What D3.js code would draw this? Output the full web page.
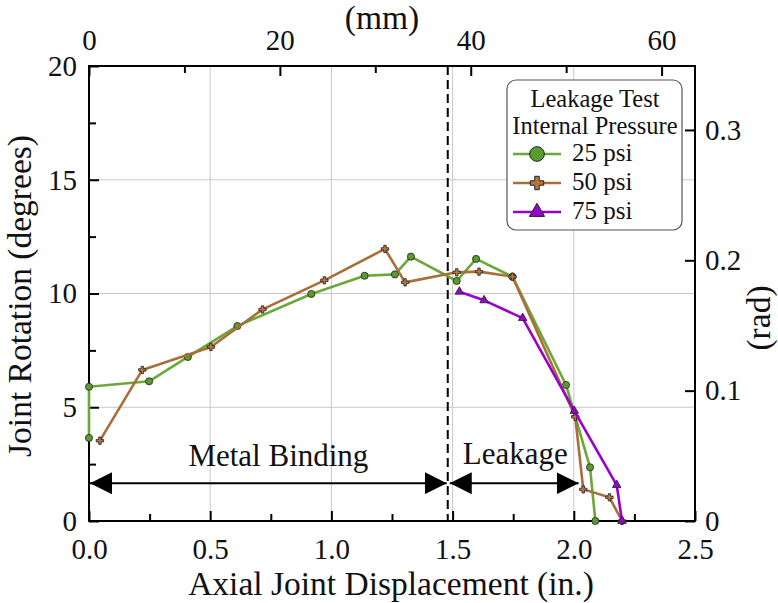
<!DOCTYPE html>
<html>
<head>
<meta charset="utf-8">
<script src="https://cdn.jsdelivr.net/npm/d3@7"></script>
<style>
  body { margin: 0; background: #fff; }
</style>
</head>
<body>
<div id="chart"></div>
<script>
// data (x in inches, y in degrees)
const x25 = [0, 0, 0.248, 0.408, 0.612, 0.917, 1.137, 1.262, 1.328, 1.517, 1.597, 1.747, 1.968, 2.067, 2.089];
const y25 = [3.65, 5.9, 6.14, 7.21, 8.57, 9.98, 10.78, 10.84, 11.62, 10.55, 11.52, 10.74, 5.98, 2.36, 0];
const x50 = [0.045, 0.22, 0.503, 0.716, 0.971, 1.221, 1.304, 1.517, 1.609, 1.747, 2.006, 2.039, 2.147, 2.199];
const y50 = [3.53, 6.64, 7.65, 9.3, 10.58, 11.96, 10.49, 10.93, 10.96, 10.74, 4.58, 1.39, 1.04, 0];
const x75 = [1.528, 1.63, 1.789, 2.002, 2.177, 2.199];
const y75 = [10.08, 9.70, 8.92, 4.84, 1.58, 0];

const seriesNames = ["25 psi", "50 psi", "75 psi"];
const xTicks = [0, 0.5, 1.0, 1.5, 2.0, 2.5];
const yTicks = [0, 5, 10, 15, 20];
const mmTicks = [0, 20, 40, 60];
const radTicks = [0, 0.1, 0.2, 0.3];
const leakStart = 1.48;
const leakEnd = 2.02;
const arrowY = 1.66;

const margin = {top: 66, right: 83, bottom: 82, left: 89},
    width = 778 - margin.left - margin.right,
    height = 603 - margin.top - margin.bottom;

const svg = d3.select("#chart")
  .append("svg")
    .attr("width", 778)
    .attr("height", 603);

const g = svg.append("g")
    .attr("transform", `translate(${margin.left},${margin.top})`);

const x = d3.scaleLinear().domain([0, 2.5]).range([0, width]);
const y = d3.scaleLinear().domain([0, 20]).range([height, 0]);
const xmm = d3.scaleLinear().domain([0, 2.5 * 25.4]).range([0, width]);
const yrad = d3.scaleLinear().domain([0, 20 * Math.PI / 180]).range([height, 0]);

// grid
g.append("g").selectAll("line")
  .data(xTicks.slice(1, -1))
  .join("line")
    .attr("x1", d => x(d)).attr("x2", d => x(d))
    .attr("y1", 0).attr("y2", height)
    .attr("stroke", "#c8c8c8").attr("stroke-width", 1);
g.append("g").selectAll("line")
  .data(yTicks.slice(1, -1))
  .join("line")
    .attr("y1", d => y(d)).attr("y2", d => y(d))
    .attr("x1", 0).attr("x2", width)
    .attr("stroke", "#c8c8c8").attr("stroke-width", 1);

// axes
function styleAxis(sel, fs) {
  sel.select(".domain").remove();
  sel.selectAll(".tick line").attr("stroke", "#000").attr("stroke-width", 2);
  sel.selectAll(".tick text").style("font-size", fs + "px");
}
function minor(sel) {
  sel.select(".domain").remove();
  sel.selectAll("line").attr("stroke", "#000").attr("stroke-width", 2);
}

const axBottom = g.append("g").attr("transform", `translate(0,${height})`)
  .call(d3.axisBottom(x).tickValues(xTicks).tickFormat(d3.format(".1f")).tickSizeInner(-10).tickPadding(17));
styleAxis(axBottom, 29);
g.append("g").attr("transform", `translate(0,${height})`)
  .call(d3.axisBottom(x).tickValues(d3.range(0.25, 2.5, 0.5)).tickFormat("").tickSizeInner(-7))
  .call(minor);

const axLeft = g.append("g")
  .call(d3.axisLeft(y).tickValues(yTicks).tickSizeInner(-10).tickPadding(12));
styleAxis(axLeft, 29);
g.append("g")
  .call(d3.axisLeft(y).tickValues(d3.range(2.5, 20, 5)).tickFormat("").tickSizeInner(-7))
  .call(minor);

const axTop = g.append("g")
  .call(d3.axisTop(xmm).tickValues(mmTicks).tickSizeInner(-10).tickPadding(16));
styleAxis(axTop, 29);
g.append("g")
  .call(d3.axisTop(xmm).tickValues([10, 30, 50]).tickFormat("").tickSizeInner(-7))
  .call(minor);

const axRight = g.append("g").attr("transform", `translate(${width},0)`)
  .call(d3.axisRight(yrad).tickValues(radTicks).tickFormat(d => d === 0 ? "0" : d3.format(".1f")(d)).tickSizeInner(-10).tickPadding(10));
styleAxis(axRight, 29);

// frame
g.append("rect")
  .attr("width", width).attr("height", height)
  .attr("fill", "none").attr("stroke", "#000").attr("stroke-width", 2);

// axis titles
svg.append("text")
  .attr("x", 391).attr("y", 595)
  .attr("text-anchor", "middle").style("font-size", "33.5px")
  .text("Axial Joint Displacement (in.)");
svg.append("text")
  .attr("x", 382).attr("y", 29)
  .attr("text-anchor", "middle").style("font-size", "33.5px")
  .text("(mm)");
svg.append("text")
  .attr("transform", "translate(31,296) rotate(-90)")
  .attr("text-anchor", "middle").style("font-size", "33.5px")
  .text("Joint Rotation (degrees)");
svg.append("text")
  .attr("transform", "translate(770,318) rotate(-90)")
  .attr("text-anchor", "middle").style("font-size", "33.5px")
  .text("(rad)");

// leak boundary
g.append("line")
  .attr("x1", x(leakStart)).attr("x2", x(leakStart))
  .attr("y1", 0).attr("y2", height)
  .attr("stroke", "#000").attr("stroke-width", 2)
  .attr("stroke-dasharray", "9,5");

// arrows
const defs = svg.append("defs");
defs.append("marker")
  .attr("id", "ah").attr("viewBox", "0 0 22 22")
  .attr("refX", 22).attr("refY", 11)
  .attr("markerWidth", 22).attr("markerHeight", 22)
  .attr("markerUnits", "userSpaceOnUse")
  .attr("orient", "auto-start-reverse")
  .append("path").attr("d", "M0,0L22,11L0,22Z").attr("fill", "#000");

g.append("line")
  .attr("x1", x(0) + 1).attr("x2", x(leakStart) - 1)
  .attr("y1", y(arrowY)).attr("y2", y(arrowY))
  .attr("stroke", "#000").attr("stroke-width", 2)
  .attr("marker-start", "url(#ah)").attr("marker-end", "url(#ah)");
g.append("line")
  .attr("x1", x(leakStart) + 2).attr("x2", x(leakEnd))
  .attr("y1", y(arrowY)).attr("y2", y(arrowY))
  .attr("stroke", "#000").attr("stroke-width", 2)
  .attr("marker-start", "url(#ah)").attr("marker-end", "url(#ah)");

g.append("text")
  .attr("x", x(leakStart / 2) + 10).attr("y", y(arrowY) - 17)
  .attr("text-anchor", "middle").style("font-size", "31px")
  .text("Metal Binding");
g.append("text")
  .attr("x", x((leakStart + leakEnd) / 2) + 2).attr("y", y(arrowY) - 19)
  .attr("text-anchor", "middle").style("font-size", "31px")
  .text("Leakage");

// series
const colors = ["#6aa83a", "#a86e3c", "#9a00cc"];
const fills = ["#5b9b2e", "#b5773f", "#9a00cc"];
const series = [
  {xs: x25, ys: y25, sym: d3.symbolCircle, size: 40, big: 170},
  {xs: x50, ys: y50, sym: d3.symbolCross, size: 30, big: 100},
  {xs: x75, ys: y75, sym: d3.symbolTriangle, size: 32, big: 100}
];

const line = d3.line().x(d => x(d[0])).y(d => y(d[1]));

series.forEach((s, i) => {
  const pts = s.xs.map((v, j) => [v, s.ys[j]]);
  g.append("path")
    .datum(pts)
    .attr("d", line)
    .attr("fill", "none")
    .attr("stroke", colors[i])
    .attr("stroke-width", 2.6)
    .attr("stroke-linejoin", "round");
  g.append("g").selectAll("path")
    .data(pts)
    .join("path")
      .attr("transform", d => `translate(${x(d[0])},${y(d[1])})`)
      .attr("d", d3.symbol(s.sym, s.size))
      .attr("fill", fills[i])
      .attr("stroke", "#222")
      .attr("stroke-width", 0.8);
});

// legend
const lg = svg.append("g").attr("transform", "translate(507,80)");
lg.append("rect")
  .attr("width", 175).attr("height", 150)
  .attr("rx", 9).attr("ry", 9)
  .attr("fill", "#fff").attr("stroke", "#555").attr("stroke-width", 1.2);
lg.append("text").attr("x", 88).attr("y", 27)
  .attr("text-anchor", "middle").style("font-size", "24.5px").text("Leakage Test");
lg.append("text").attr("x", 88).attr("y", 54)
  .attr("text-anchor", "middle").style("font-size", "24.5px").text("Internal Pressure");

seriesNames.forEach((name, i) => {
  const yy = 74 + i * 29;
  lg.append("line")
    .attr("x1", 6).attr("x2", 54).attr("y1", yy).attr("y2", yy)
    .attr("stroke", colors[i]).attr("stroke-width", 2.6);
  lg.append("path")
    .attr("transform", `translate(30,${yy})`)
    .attr("d", d3.symbol(series[i].sym, series[i].big))
    .attr("fill", fills[i]).attr("stroke", "#222").attr("stroke-width", 1);
  lg.append("text").attr("x", 65).attr("y", yy + 7)
    .style("font-size", "25px").text(name);
});

// serif everywhere
svg.selectAll("text")
  .style("font-family", '"Liberation Serif"')
  .style("fill", "#111");
</script>
</body>
</html>
